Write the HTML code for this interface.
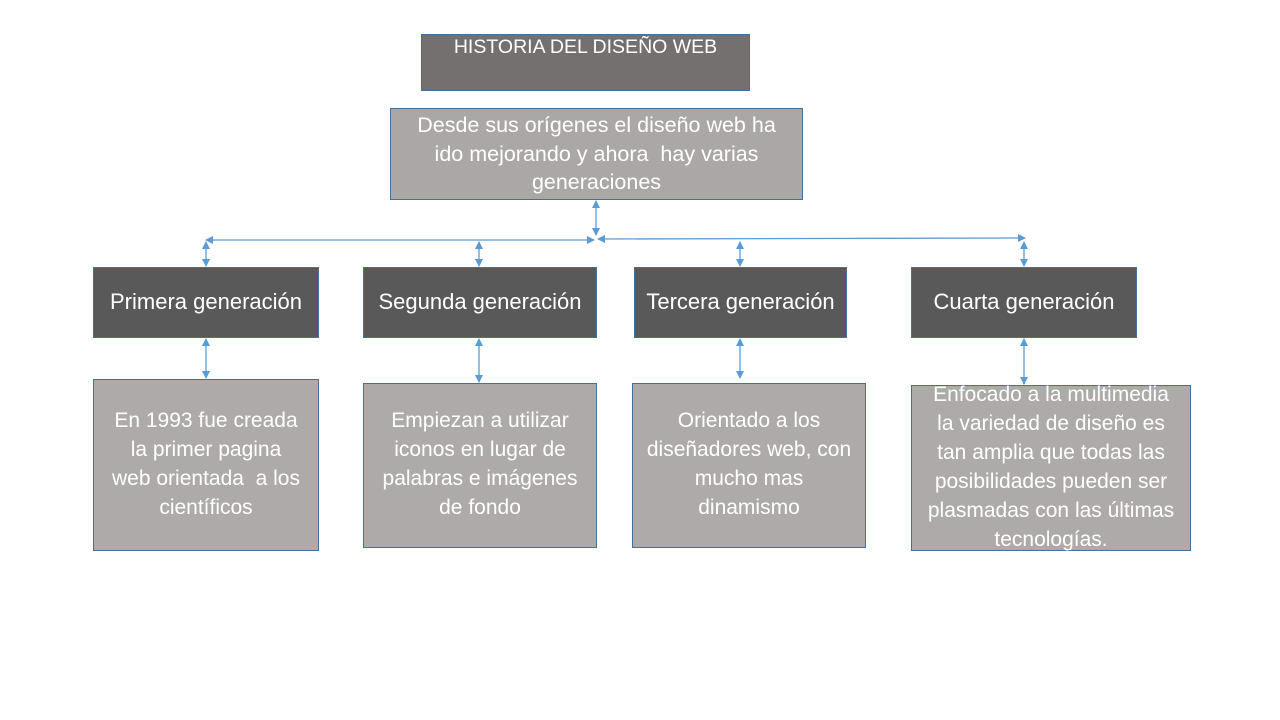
<!DOCTYPE html>
<html><head><meta charset="utf-8"><style>
body{margin:0;width:1280px;height:720px;background:#fff;position:relative;overflow:hidden;font-family:"Liberation Sans",sans-serif;}
.b{position:absolute;box-sizing:border-box;border:1px solid #41719c;}
.t{position:absolute;color:#fff;text-align:center;white-space:nowrap;font-size:21px;line-height:29px;}
svg{position:absolute;left:0;top:0;}
</style></head><body>
<div class="b" style="left:421px;top:34px;width:329px;height:57px;background:#757070;border-color:#41719c"></div>
<div class="t" style="left:421px;width:329px;top:33px;font-size:19.5px;">HISTORIA DEL DISEÑO WEB</div>
<div class="b" style="left:390px;top:108px;width:413px;height:92px;background:#aba7a7"></div>
<div class="t" style="left:390px;width:413px;top:111px;font-size:21.5px;line-height:28.5px;">Desde sus orígenes el diseño web ha<br>ido mejorando y ahora &nbsp;hay varias<br>generaciones</div>

<div class="b" style="left:93px;top:267px;width:226px;height:71px;background:#595959"></div>
<div class="t" style="left:93px;width:226px;top:287px;font-size:22px;">Primera generación</div>
<div class="b" style="left:363px;top:267px;width:234px;height:71px;background:#595959"></div>
<div class="t" style="left:363px;width:234px;top:287px;font-size:22px;">Segunda generación</div>
<div class="b" style="left:634px;top:267px;width:213px;height:71px;background:#595959"></div>
<div class="t" style="left:634px;width:213px;top:287px;font-size:22px;">Tercera generación</div>
<div class="b" style="left:911px;top:267px;width:226px;height:71px;background:#595959"></div>
<div class="t" style="left:911px;width:226px;top:287px;font-size:22px;">Cuarta generación</div>

<div class="b" style="left:93px;top:379px;width:226px;height:172px;background:#aeaaaa"></div>
<div class="t" style="left:93px;width:226px;top:406px;">En 1993 fue creada<br>la primer pagina<br>web orientada &nbsp;a los<br>científicos</div>
<div class="b" style="left:363px;top:383px;width:234px;height:165px;background:#aeaaaa"></div>
<div class="t" style="left:363px;width:234px;top:406px;">Empiezan a utilizar<br>iconos en lugar de<br>palabras e imágenes<br>de fondo</div>
<div class="b" style="left:632px;top:383px;width:234px;height:165px;background:#aeaaaa"></div>
<div class="t" style="left:632px;width:234px;top:406px;">Orientado a los<br>diseñadores web, con<br>mucho mas<br>dinamismo</div>
<div class="b" style="left:911px;top:385px;width:280px;height:166px;background:#aeaaaa"></div>
<div class="t" style="left:911px;width:280px;top:380px;">Enfocado a la multimedia<br>la variedad de diseño es<br>tan amplia que todas las<br>posibilidades pueden ser<br>plasmadas con las últimas<br>tecnologías.</div>

<svg width="1280" height="720">
<defs><marker id="a" markerWidth="8" markerHeight="8" refX="7" refY="4" orient="auto-start-reverse" markerUnits="userSpaceOnUse"><path d="M0,0 L8,4 L0,8 z" fill="#5b9bd5"/></marker></defs>
<g stroke="#5b9bd5" stroke-width="1.3" fill="none">
<line x1="596" y1="201" x2="596" y2="235" marker-start="url(#a)" marker-end="url(#a)"/>
<line x1="206" y1="240" x2="594" y2="240" marker-start="url(#a)" marker-end="url(#a)"/>
<line x1="598" y1="239" x2="1025" y2="238" marker-start="url(#a)" marker-end="url(#a)"/>
<line x1="206" y1="242" x2="206" y2="266" marker-start="url(#a)" marker-end="url(#a)"/>
<line x1="479" y1="242" x2="479" y2="266" marker-start="url(#a)" marker-end="url(#a)"/>
<line x1="740" y1="242" x2="740" y2="266" marker-start="url(#a)" marker-end="url(#a)"/>
<line x1="1024" y1="242" x2="1024" y2="266" marker-start="url(#a)" marker-end="url(#a)"/>
<line x1="206" y1="339" x2="206" y2="378" marker-start="url(#a)" marker-end="url(#a)"/>
<line x1="479" y1="339" x2="479" y2="382" marker-start="url(#a)" marker-end="url(#a)"/>
<line x1="740" y1="339" x2="740" y2="378" marker-start="url(#a)" marker-end="url(#a)"/>
<line x1="1024" y1="339" x2="1024" y2="384" marker-start="url(#a)" marker-end="url(#a)"/>
</g></svg>
</body></html>
